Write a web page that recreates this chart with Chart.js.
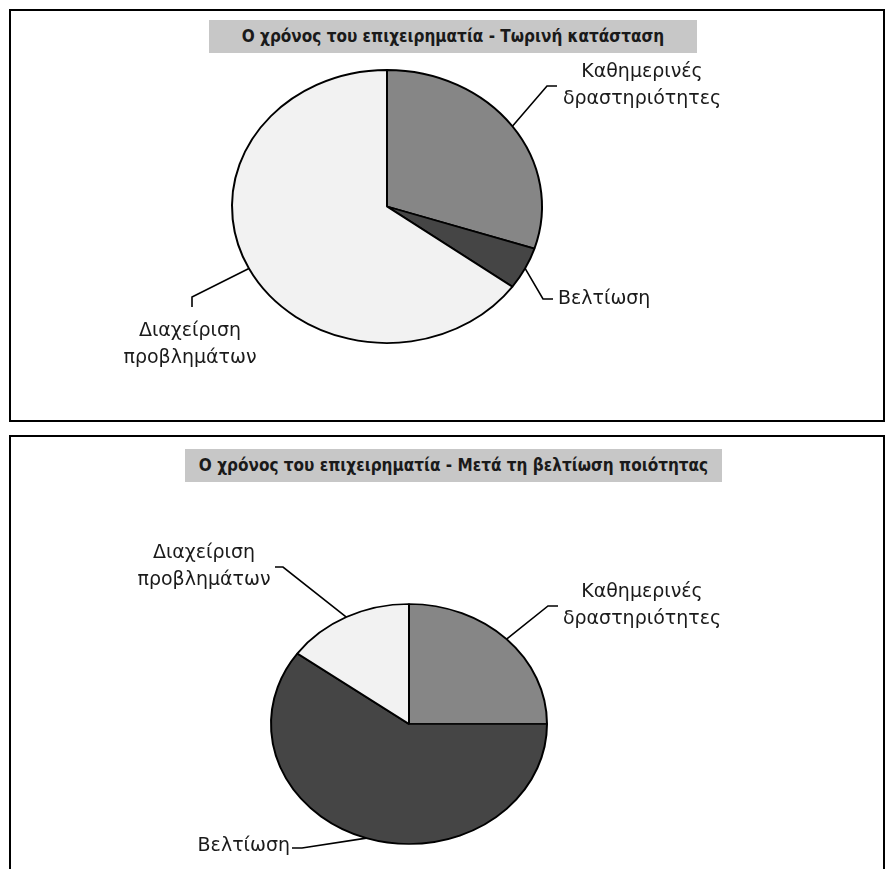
<!DOCTYPE html>
<html>
<head>
<meta charset="utf-8">
<script src="https://cdn.jsdelivr.net/npm/chart.js@4"></script>
<style>
  html, body { margin: 0; padding: 0; background: #fff; }
  body { width: 894px; height: 869px; overflow: hidden; position: relative; }
  .frame { position: absolute; border: 2px solid #000; box-sizing: border-box; }
  .title {
    position: absolute; height: 33px; line-height: 33px; background: #c7c7c7;
    text-align: center; color: #1a1a1a; font-weight: bold; font-size: 17px;
    font-family: "DejaVu Sans Condensed", "DejaVu Sans", sans-serif; font-stretch: condensed;
    white-space: nowrap;
  }
  canvas { position: absolute; left: 0; }
</style>
</head>
<body>
<div class="frame" style="left:9px; top:9px; width:876px; height:413px;"></div>
<div class="frame" style="left:9px; top:435px; width:876px; height:500px;"></div>
<div class="title" id="title1" style="left:209px; top:20px; width:488px;"></div>
<div class="title" id="title2" style="left:185px; top:449px; width:537px;"></div>
<canvas id="pieNow" width="894" height="430" style="top:0px;"></canvas>
<canvas id="pieAfter" width="894" height="500" style="top:430px;"></canvas>
<script>
// Activity categories (multi-line labels)
const categories = [
  ['Καθημερινές', 'δραστηριότητες'],
  ['Βελτίωση'],
  ['Διαχείριση', 'προβλημάτων']
];
// Share of the entrepreneur's time (%)
const currentShares = [30, 5, 65];
const afterQualityShares = [25, 60, 15];

const titleNow = 'Ο χρόνος του επιχειρηματία - Τωρινή κατάσταση';
const titleAfter = 'Ο χρόνος του επιχειρηματία - Μετά τη βελτίωση ποιότητας';

document.getElementById('title1').textContent = titleNow;
document.getElementById('title2').textContent = titleAfter;

const sliceColors = ['#868686', '#454545', '#f2f2f2'];

// Squash the pie vertically into an ellipse (tilted look)
const ellipsePlugin = {
  id: 'ellipse',
  beforeDatasetsDraw(chart, args, opts) {
    const arc = chart.getDatasetMeta(0).data[0];
    const ctx = chart.ctx;
    ctx.save();
    ctx.translate(arc.x, arc.y);
    ctx.scale(1, opts.ratio);
    ctx.translate(-arc.x, -arc.y);
  },
  afterDatasetsDraw(chart) {
    chart.ctx.restore();
  }
};

// Outside labels with elbow leader lines
const leaderPlugin = {
  id: 'leaders',
  afterDraw(chart, args, opts) {
    const ctx = chart.ctx;
    const meta = chart.getDatasetMeta(0);
    const labels = chart.data.labels;
    const ratio = chart.options.plugins.ellipse.ratio;
    ctx.save();
    ctx.strokeStyle = '#000';
    ctx.lineWidth = 1.6;
    ctx.fillStyle = '#1a1a1a';
    ctx.font = '19px "DejaVu Sans", sans-serif';
    ctx.textBaseline = 'middle';
    meta.data.forEach((arc, i) => {
      const p = opts.items[i];
      const mid = (arc.startAngle + arc.endAngle) / 2;
      const sx = arc.x + arc.outerRadius * Math.cos(mid);
      const sy = arc.y + arc.outerRadius * ratio * Math.sin(mid);
      ctx.beginPath();
      ctx.moveTo(sx, sy);
      ctx.lineTo(p.elbow[0], p.elbow[1]);
      ctx.lineTo(p.end[0], p.end[1]);
      ctx.stroke();
      ctx.textAlign = p.align;
      labels[i].forEach((line, j) => {
        ctx.fillText(line, p.tx, p.ty + j * 27);
      });
    });
    ctx.restore();
  }
};

function makePie(id, values, padding, radius, ratio, items) {
  return new Chart(document.getElementById(id), {
    type: 'pie',
    data: {
      labels: categories,
      datasets: [{
        data: values,
        backgroundColor: sliceColors,
        borderColor: '#000',
        borderWidth: 2
      }]
    },
    options: {
      responsive: false,
      devicePixelRatio: 1,
      animation: false,
      radius: radius,
      layout: { padding: padding },
      plugins: {
        legend: { display: false },
        tooltip: { enabled: false },
        title: { display: false },
        ellipse: { ratio: ratio },
        leaders: { items: items }
      }
    },
    plugins: [ellipsePlugin, leaderPlugin]
  });
}

makePie('pieNow', currentShares,
  { left: 222, right: 342, top: 41.5, bottom: 58.5 }, 155, 136.5 / 155,
  [
    { elbow: [547, 86], end: [557, 86], tx: 642, ty: 72, align: 'center' },
    { elbow: [543, 299], end: [553, 299], tx: 558, ty: 299, align: 'left' },
    { elbow: [192, 297], end: [192, 307], tx: 190, ty: 331, align: 'center' }
  ]);

makePie('pieAfter', afterQualityShares,
  { left: 259, right: 335, top: 144, bottom: 56 }, 138, 120 / 138,
  [
    { elbow: [548, 176], end: [558, 176], tx: 642, ty: 162, align: 'center' },
    { elbow: [302, 418], end: [292, 418], tx: 290, ty: 416, align: 'right' },
    { elbow: [283, 137], end: [275, 137], tx: 204, ty: 123, align: 'center' }
  ]);
</script>
</body>
</html>
